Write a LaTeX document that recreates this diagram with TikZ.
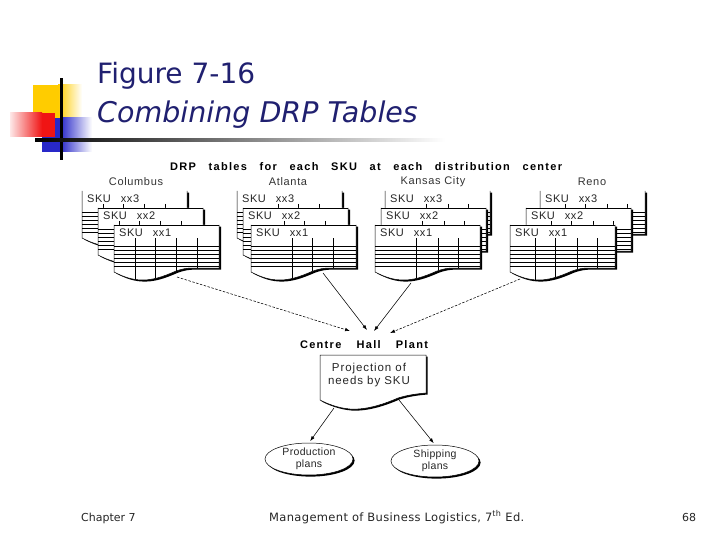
\documentclass[tikz,border=0pt]{standalone}
\usepackage{fontspec}
\setmainfont{Liberation Sans}
\newfontfamily\titlefont{DejaVu Sans}
\usetikzlibrary{arrows.meta,shapes.geometric,shadows}
\definecolor{titleblue}{RGB}{32,32,112}
\definecolor{decoyellow}{RGB}{255,204,0}
\definecolor{decored}{RGB}{240,20,20}
\definecolor{decoblue}{RGB}{40,40,200}

\newcommand\sheetpath{(0,0) -- (105,0) -- (105,43) -- (80,43) .. controls (72,43) and (68,44) .. (62,46) .. controls (55,49) and (42,55) .. (29,55) .. controls (18,55) and (10,52) .. (0,47) -- cycle}
\newcommand\sheetopen{(0,0) -- (0,47) .. controls (10,52) and (18,55) .. (29,55) .. controls (42,55) and (55,49) .. (62,46) .. controls (68,44) and (72,43) .. (80,43) -- (105,43) -- (105,0)}
\newcommand\projpath{(0,0) -- (106,0) -- (106,38) .. controls (95,39) and (88,40) .. (78,43) .. controls (62,50) and (45,55) .. (30,54) .. controls (18,53) and (8,49) .. (0,45) -- cycle}

\newcommand\drpsheet[5]{%
  \begin{scope}[shift={(#1,#2)}]
    \fill[black,shift={(2.2,1.6)}] \sheetpath;
    \fill[white] \sheetpath;
    \begin{scope}
      \clip \sheetpath;
      \foreach \yy in {21,25,29,33,37,41} \draw[gridline] (0,\yy) -- (105,\yy);
      \foreach \xx in {#4} \draw[gridline] (\xx,13) -- (\xx,60);
    \end{scope}
    \draw[sheetline] \sheetopen;
    \ifnum#5=1 \draw[sheetline] (0,0) -- (105,0);\fi
    \node[skul] at (5,8) {SKU\hspace{10pt}xx#3};
  \end{scope}}

\tikzset{
  sheetline/.style={line width=0.5pt},
  gridline/.style={line width=0.45pt},
  locl/.style={font=\fontsize{11}{12}\selectfont\addfontfeature{LetterSpace=6}, text=black!80, inner sep=0},
  skul/.style={font=\fontsize{11}{12}\selectfont\addfontfeature{LetterSpace=5}, text=black!85, inner sep=0, anchor=west},
  boldhead/.style={inner sep=0, font=\bfseries\fontsize{11}{12}\selectfont\addfontfeature{LetterSpace=12}},
  flowarrow/.style={-{Latex[length=5pt,width=3.5pt]}, line width=0.55pt},
  dasharrow/.style={flowarrow, dash pattern=on 2.5pt off 1.5pt},
  plan/.style={ellipse, draw, line width=0.5pt, fill=white, minimum width=88pt, minimum height=32pt, inner sep=0, align=center, font=\fontsize{10.5}{12.5}\selectfont\addfontfeature{LetterSpace=3}, text=black!85, drop shadow={shadow xshift=1.6pt, shadow yshift=-1.6pt, fill=black, opacity=1}},
  footer/.style={font=\titlefont\fontsize{11}{13}\selectfont, text=black!85, inner sep=0, anchor=base west},
}

\begin{document}
\begin{tikzpicture}[x=1pt,y=-1pt]
\useasboundingbox (0,0) rectangle (720,540);
\fill[white] (0,0) rectangle (720,540);

% decoration
\fill[decoyellow] (33,85) rectangle (58,118);
\shade[left color=decoyellow, right color=white] (58,85) rectangle (82,118);
\fill[decoblue] (42,118) rectangle (60,152);
\shade[left color=decoblue, right color=white] (60,118) rectangle (92,152);
\shade[left color=decored!10, right color=decored] (10,113) rectangle (42,137);
\fill[decored] (42,113) rectangle (55,137);
\fill[black] (60,78) rectangle (62.5,160);
\shade[left color=black, right color=white] (35,139) rectangle (445,141.2);

% title
\node[anchor=base west, font=\titlefont\fontsize{28}{32}\selectfont, text=titleblue, inner sep=0] (title1) at (97,84) {Figure 7-16};
\node[anchor=base west, font=\titlefont\itshape\fontsize{28.5}{32}\selectfont, text=titleblue, inner sep=0] (title2) at (97,123) {Combining DRP Tables};

% heading
\node[boldhead, anchor=west] (drphead) at (170,167) {\makebox[392pt][s]{DRP tables for each SKU at each distribution center}};

\node[locl] (colname) at (136,182) {Columbus};
\node[locl] (atlname) at (288,182) {Atlanta};
\node[locl] (kcname) at (433,182) {Kansas City};
\node[locl] (renoname) at (592,182) {Reno};

% Columbus
\drpsheet{82}{191}{3}{21,41,62,83}{0}
\drpsheet{98}{208}{2}{21,41,62,83}{1}
\drpsheet{114}{225}{1}{21,41,62,83}{1}
% Atlanta
\drpsheet{237}{191}{3}{41,61,82}{0}
\drpsheet{243}{208}{2}{41,61,82}{1}
\drpsheet{251}{225}{1}{41,61,82}{1}
% Kansas City
\drpsheet{385}{191}{3}{41,63,83}{0}
\drpsheet{381}{208}{2}{41,63,83}{1}
\drpsheet{375}{225}{1}{41,63,83}{1}
% Reno
\drpsheet{540}{191}{3}{25,45,67,87}{0}
\drpsheet{526}{208}{2}{25,45,67,87}{1}
\drpsheet{510}{225}{1}{25,45,67,87}{1}

% Centre Hall Plant
\node[boldhead] (chp) at (364,345) {\makebox[128pt][s]{Centre Hall Plant}};

\coordinate (colout) at (177,277);
\coordinate (atlout) at (323,273);
\coordinate (kcout) at (411,283);
\coordinate (renout) at (520,279);
\coordinate (in1) at (350,331);
\coordinate (in2) at (367,330);
\coordinate (in3) at (374,331);
\coordinate (in4) at (390,333);

\draw[dasharrow] (colout) -- (in1);
\draw[flowarrow] (atlout) -- (in2);
\draw[flowarrow] (kcout) -- (in3);
\draw[dasharrow] (renout) -- (in4);

% projection box
\begin{scope}[shift={(320,355)}]
  \fill[black,shift={(1.5,1.5)}] \projpath;
  \fill[white] \projpath;
  \draw[sheetline] \projpath;
\end{scope}
\node[inner sep=0, align=center, font=\fontsize{11.5}{13}\selectfont\addfontfeature{LetterSpace=8}, text=black!85] (proj) at (369,375) {Projection of\\needs by SKU};

\coordinate (projL) at (334,408);
\coordinate (projR) at (399,400);

\node[plan] (prod) at (309,459) {Production\\plans};
\node[plan] (ship) at (435,461) {Shipping\\plans};

\draw[flowarrow, shorten >=2pt] (projL) -- (prod.north);
\draw[flowarrow, shorten >=2pt] (projR) -- (ship.north);

% footer
\node[footer] (chap) at (81,521) {Chapter 7};
\node[footer, font=\titlefont\fontsize{11.5}{13}\selectfont\addfontfeature{LetterSpace=3}] (book) at (269,521) {Management of Business Logistics, 7\textsuperscript{th} Ed.};
\node[footer] (page) at (682,521) {68};
\end{tikzpicture}
\end{document}
